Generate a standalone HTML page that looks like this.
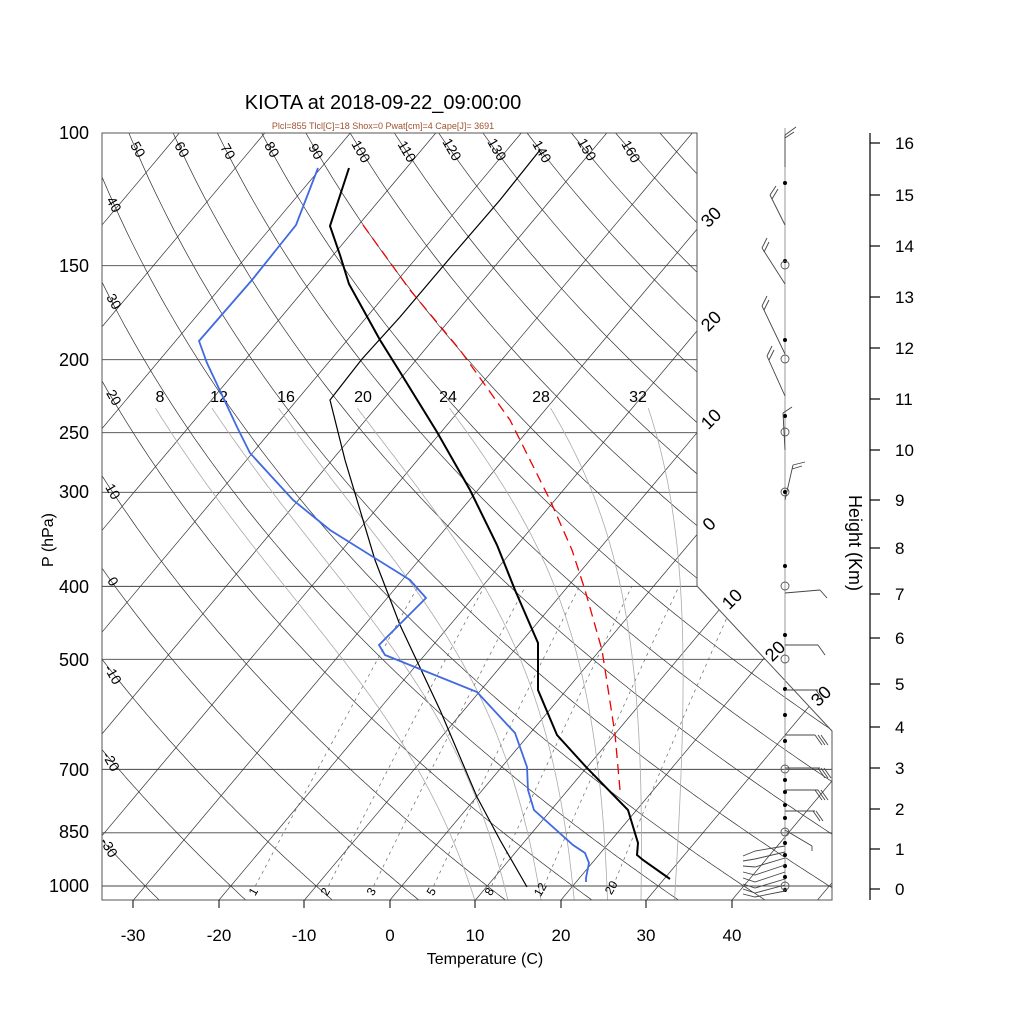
<!DOCTYPE html>
<html><head><meta charset="utf-8"><style>
html,body{margin:0;padding:0;background:#fff;}
svg{display:block;font-family:"Liberation Sans",sans-serif;}
</style></head><body>
<svg id="s" width="1024" height="1024" viewBox="0 0 1024 1024" xmlns="http://www.w3.org/2000/svg">
<defs><clipPath id="c"><polygon points="102,133 697,133 697,586 832,731 832,900 102,900"/></clipPath></defs>
<rect width="1024" height="1024" fill="#fff"/>
<g id="grid" clip-path="url(#c)"></g>
<g id="lab"></g>
<polygon points="102,133 697,133 697,586 832,731 832,900 102,900" fill="none" stroke="#555" stroke-width="1"/>
<text x="383" y="109" font-size="20" text-anchor="middle">KIOTA at 2018-09-22_09:00:00</text>
<text x="383" y="129" font-size="9" fill="#a0522d" text-anchor="middle">Plcl=855 Tlcl[C]=18 Shox=0 Pwat[cm]=4 Cape[J]= 3691</text>
<text x="485" y="964" font-size="16" text-anchor="middle">Temperature (C)</text>
<text transform="translate(53,540) rotate(-90)" font-size="16" text-anchor="middle">P (hPa)</text>
<text transform="translate(849,543) rotate(90)" font-size="18" text-anchor="middle">Height (Km)</text>
<g font-size="18" text-anchor="end">
<text x="89" y="139">100</text><text x="89" y="272">150</text><text x="89" y="366">200</text><text x="89" y="439">250</text><text x="89" y="498">300</text><text x="89" y="593">400</text><text x="89" y="666">500</text><text x="89" y="776">700</text><text x="89" y="838">850</text><text x="89" y="892">1000</text>
</g>
<g font-size="17" text-anchor="middle">
<text x="133" y="941">-30</text><text x="219" y="941">-20</text><text x="304" y="941">-10</text><text x="390" y="941">0</text><text x="475" y="941">10</text><text x="561" y="941">20</text><text x="646" y="941">30</text><text x="732" y="941">40</text>
</g>
<g stroke="#000" stroke-width="1">
<line x1="133" y1="900" x2="133" y2="908"/><line x1="219" y1="900" x2="219" y2="908"/><line x1="304" y1="900" x2="304" y2="908"/><line x1="390" y1="900" x2="390" y2="908"/><line x1="475" y1="900" x2="475" y2="908"/><line x1="561" y1="900" x2="561" y2="908"/><line x1="646" y1="900" x2="646" y2="908"/><line x1="732" y1="900" x2="732" y2="908"/>
</g>
<g id="hax" stroke="#000" stroke-width="1.2"><line x1="870" y1="133" x2="870" y2="900"/></g>
<g id="hlab" font-size="17"></g>
<polyline fill="none" stroke="#000" stroke-width="1.2" points="527,887 500,840 477,797 440,710 400,625 375,560 345,460 330,400 362,359 400,317 450,258 500,200 540,150"/>
<polyline fill="none" stroke="#e00" stroke-width="1.3" stroke-dasharray="10,6" points="363,225 410,290 460,350 510,420 550,500 572,550 585,590 602,650 615,734 620,790"/>
<polyline fill="none" stroke="#4169e1" stroke-width="1.8" points="318,168 296,225 280,245 252,280 199,341 207,363 237,427 250,453 293,500 330,530 410,580 426,598 379,645 385,655 477,692 515,733 527,767 528,790 534,810 573,845 585,853 589,863 586,878 586,882"/>
<polyline fill="none" stroke="#000" stroke-width="2" points="349,168 330,226 340,255 349,284 380,340 400,372 437,432 470,490 497,545 515,590 538,643 538,690 557,735 587,768 628,810 638,843 637,855 643,860 670,879"/>
<line x1="785" y1="128" x2="785" y2="890" stroke="#999" stroke-width="1"/>
<g id="wind" fill="none" stroke="#444" stroke-width="0.9"></g>
<script>
var NS="http://www.w3.org/2000/svg";
function el(par,tag,at,txt){var e=document.createElementNS(NS,tag);for(var k in at)e.setAttribute(k,at[k]);if(txt!==undefined)e.textContent=txt;par.appendChild(e);return e;}
function Y(p){return 886+327*Math.log(p/1000);}
function X(T,p){return 390+8.55*T+0.84*(900-Y(p));}
var g=document.getElementById('grid'),lab=document.getElementById('lab');
[150,200,250,300,400,500,700,850,1000].forEach(function(p){var y=Y(p);var xr=y<=586?697:(y<731?697+(y-586)*135/145:832);el(g,'line',{x1:102,y1:y,x2:xr,y2:y,stroke:'#444','stroke-width':0.9});});
for(var T=-160;T<=60;T+=10){var x1=390+8.55*T;el(g,'line',{x1:x1,y1:900,x2:x1+0.84*767,y2:133,stroke:'#333','stroke-width':0.7});}
for(var th=-50;th<=220;th+=10){var pts=[];for(var p=1050;p>=95;p-=5){var t=(th+273.15)*Math.pow(p/1000,0.286)-273.15;pts.push(X(t,p).toFixed(1)+','+Y(p).toFixed(1));}el(g,'polyline',{points:pts.join(' '),fill:'none',stroke:'#333','stroke-width':0.7});}
function dTdp(p,T){var Tc=T-273.15;var es=6.112*Math.exp(17.67*Tc/(Tc+243.5));var rs=0.622*es/(p-es);return (287*T+2.5e6*rs)/(1005+2.5e6*2.5e6*rs*0.622/(287*T*T))/p;}
[8,12,16,20,24,28,32].forEach(function(tw){var pts=[];var T=tw+273.15,p=1000;var dn=[];var T2=T;for(var q=1000;q<1050;q+=2){T2+=dTdp(q,T2)*2;dn.push([T2,q+2]);}
 dn.reverse().forEach(function(a){pts.push(X(a[0]-273.15,a[1]).toFixed(1)+','+Y(a[1]).toFixed(1));});
 while(Y(p)>408){pts.push(X(T-273.15,p).toFixed(1)+','+Y(p).toFixed(1));T-=dTdp(p,T)*2;p-=2;}
 el(g,'polyline',{points:pts.join(' '),fill:'none',stroke:'#aaa','stroke-width':0.8});});
[1,2,3,5,8,12,20].forEach(function(w){var pts=[];for(var p=1000;p>=400;p-=10){var e=w*p/(622+w);var l=Math.log(e/6.112);var td=243.5*l/(17.67-l);pts.push(X(td,p).toFixed(1)+','+Y(p).toFixed(1));}el(g,'polyline',{points:pts.join(' '),fill:'none',stroke:'#666','stroke-width':0.7,'stroke-dasharray':'3,4'});});
function tx(x,y,s,r,fs,anc){el(lab,'text',{transform:'translate('+x+','+y+') rotate('+r+')','font-size':fs,'text-anchor':anc||'middle','dominant-baseline':'middle'},s);}
[[40,113,205],[30,113,302],[20,113,398],[10,112,492],[0,112,582],[-10,112,675],[-20,110,762],[-30,108,848]].forEach(function(a){tx(a[1],a[2],String(a[0]),60,14);});
[[50,137,150],[60,181,150],[70,227,152],[80,271,150],[90,315,152],[100,360,152],[110,406,152],[120,451,150],[130,496,150],[140,541,152],[150,586,150],[160,630,152]].forEach(function(a){tx(a[1],a[2],String(a[0]),60,14);});
[['30',712,218],['20',712,322],['10',712,420],['0',710,525],['10',733,600],['20',776,652],['30',822,697]].forEach(function(a){tx(a[1],a[2],a[0],-45,18);});
[[8,160,398],[12,219,398],[16,286,398],[20,363,398],[24,448,398],[28,541,398],[32,638,398]].forEach(function(a){tx(a[1],a[2],String(a[0]),0,16);});
[[1,254,892],[2,326,892],[3,372,892],[5,432,892],[8,490,892],[12,541,890],[20,612,888]].forEach(function(a){tx(a[1],a[2],String(a[0]),-60,12);});
var hax=document.getElementById('hax'),hl=document.getElementById('hlab');
var hy=[889,849,809,768,727,684,638,594,548,500,450,399,348,297,246,195,143];
hy.forEach(function(y,i){el(hax,'line',{x1:870,y1:y,x2:880,y2:y});el(hl,'text',{x:895,y:y+6},String(i));});
var w=document.getElementById('wind');
[183,261,340,416,492,566,635,689,715,741,780,792,805,818,843,855,866,877,890].forEach(function(y){el(w,'circle',{cx:785,cy:y,r:2,fill:'#000',stroke:'none'});});
[265,359,432,492,586,659,769,832,886].forEach(function(y){el(w,'circle',{cx:785,cy:y,r:4,fill:'none',stroke:'#555'});});
var B=[[785,167,785,135],[785,135,796,127],[785,138,794,132],
[785,225,770,195],[770,195,776,186],[772,199,778,189],
[785,284,762,248],[762,248,767,238],[764,252,769,242],
[785,354,762,306],[762,306,767,296],[764,310,769,300],
[785,396,767,356],[767,356,772,346],[769,360,774,350],
[785,450,783,413],[783,413,792,407],
[785,500,793,465],[793,465,805,462],[792,469,802,466],
[785,593,820,590],[820,590,827,598],
[785,645,818,645],[818,645,825,655],
[785,690,818,690],[816,690,823,700],
[785,735,815,735],[815,735,822,745],[818,735,825,745],[821,735,828,745],
[785,768,820,768],[818,768,825,778],[821,768,828,778],[824,768,831,778],
[785,790,818,790],[815,790,822,800],[818,790,825,800],[821,790,828,800],
[785,811,815,811],[813,811,820,821],[816,811,823,821],
[785,830,812,846],[812,846,812,851]];
B.forEach(function(b){el(w,'line',{x1:b[0],y1:b[1],x2:b[2],y2:b[3]});});
[[852,847],[857,855],[862,863],[868,871],[874,878],[880,884],[885,889],[890,893]].forEach(function(a,i){el(w,'polyline',{points:'743,'+(a[0]+4)+' 755,'+(a[1]+4)+' 785,'+(a[0]-6+i)});});
</script>
</svg>
</body></html>
